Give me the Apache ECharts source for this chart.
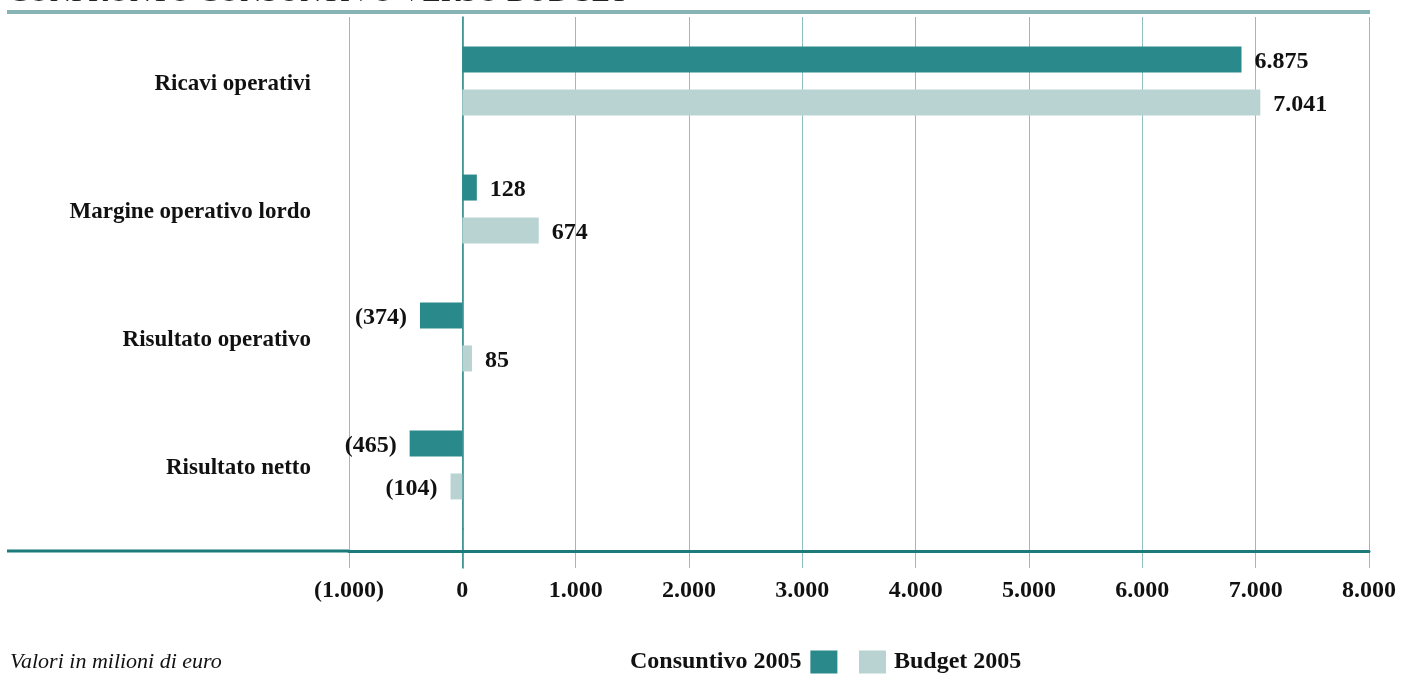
<!DOCTYPE html>
<html><head><meta charset="utf-8">
<script src="https://cdn.jsdelivr.net/npm/echarts@6/dist/echarts.min.js"></script>
<style>html,body{margin:0;padding:0;background:#fff}#c{width:1401px;height:674px}</style>
</head><body><div id="c"></div>
<script>
var categories = ['Ricavi operativi', 'Margine operativo lordo', 'Risultato operativo', 'Risultato netto'];
var consuntivo = [6875, 128, -374, -465];
var budget = [7041, 674, 85, -104];
var seriesNames = ['Consuntivo 2005', 'Budget 2005'];
var titleText = 'CONFRONTO CONSUNTIVO VERSO BUDGET';
var noteText = 'Valori in milioni di euro';
var xMin = -1000, xMax = 8000, xStep = 1000;

var FONT = 'Liberation Serif';
var GRIDC = '#8fbfc0';
var ZEROC = '#2a898a';
function fmt(v) {
  var a = Math.abs(v);
  var s = String(Math.round(a)).replace(/\B(?=(\d{3})+(?!\d))/g, '.');
  return v < 0 ? '(' + s + ')' : s;
}
function lbl(arr) {
  return arr.map(function (v) {
    return { value: v, label: { position: v < 0 ? 'left' : 'right' } };
  });
}
var chart = echarts.init(document.getElementById('c'), null, { renderer: 'canvas' });
var labelStyle = { show: true, distance: 13, offset: [0, 2], fontFamily: FONT, fontWeight: 'bold', fontSize: 24, color: '#111',
  formatter: function (p) { return fmt(p.value); } };
chart.setOption({
  animation: false,
  grid: [
    { left: 349, right: 32, top: 17, bottom: 145 },
    { left: 349, right: 32, top: 529, height: 39 }
  ],
  legend: [
    { data: [seriesNames[0]], left: 630, top: 650, padding: 0, align: 'right', itemWidth: 27, itemHeight: 23, itemGap: 8,
      icon: 'rect', textStyle: { fontFamily: FONT, fontWeight: 'bold', fontSize: 24, color: '#111', padding: [0, 4, 0, 0] } },
    { data: [seriesNames[1]], left: 859, top: 650, padding: 0, align: 'left', itemWidth: 27, itemHeight: 23,
      icon: 'rect', textStyle: { fontFamily: FONT, fontWeight: 'bold', fontSize: 24, color: '#111', padding: [0, 0, 0, 3] } }
  ],
  xAxis: [
    { type: 'value', gridIndex: 0, min: xMin, max: xMax, interval: xStep, position: 'bottom', offset: 22,
      axisLine: { show: true, onZero: false, lineStyle: { color: '#1c7a7b', width: 3 } },
      axisTick: { show: false },
      axisLabel: { margin: 28, fontFamily: FONT, fontWeight: 'bold', fontSize: 24, color: '#111',
        formatter: function (v) { return fmt(v); } },
      splitLine: { show: true, lineStyle: { color: GRIDC, width: 1 } } },
    { type: 'value', gridIndex: 1, min: xMin, max: xMax, interval: xStep, position: 'bottom',
      axisLine: { show: false, onZero: false }, axisLabel: { show: false }, axisTick: { show: false },
      splitLine: { show: true, lineStyle: { color: GRIDC, width: 1 } } }
  ],
  yAxis: [
    { type: 'category', gridIndex: 0, data: categories, inverse: true,
      axisLine: { show: true, onZero: true, lineStyle: { color: ZEROC, width: 1.5 } },
      axisTick: { show: false },
      axisLabel: { margin: 38, formatter: function (v) { return '{a|' + v + '}'; },
        rich: { a: { fontFamily: FONT, fontWeight: 'bold', fontSize: 23, color: '#111', padding: [6, 0, 0, 0] } } } },
    { type: 'value', gridIndex: 1, min: 0, max: 1, show: true,
      axisLine: { show: true, onZero: true, lineStyle: { color: ZEROC, width: 1.5 } },
      axisTick: { show: false }, axisLabel: { show: false }, splitLine: { show: false } }
  ],
  series: [
    { name: seriesNames[0], type: 'bar', data: lbl(consuntivo), barWidth: 26, barGap: '65%',
      itemStyle: { color: '#2a898a' }, label: labelStyle },
    { name: seriesNames[1], type: 'bar', data: lbl(budget), barWidth: 26, barGap: '65%',
      itemStyle: { color: '#b9d3d3' }, label: labelStyle }
  ],
  graphic: [
    { type: 'text', left: 8, top: -22, style: { text: titleText, fontFamily: FONT, fontSize: 30, fill: '#222' } },
    { type: 'rect', shape: { x: 7, y: 10, width: 1363, height: 4 }, style: { fill: '#86b3b3' } },
    { type: 'rect', shape: { x: 7, y: 549.5, width: 343, height: 3 }, style: { fill: '#1c7a7b' } },
    { type: 'text', left: 10, top: 651, style: { text: noteText, fontFamily: FONT, fontStyle: 'italic', fontSize: 22, fill: '#111' } }
  ]
});
</script></body></html>
